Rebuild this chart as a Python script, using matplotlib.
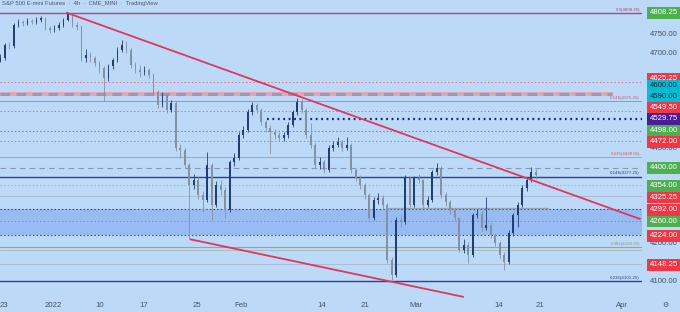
import matplotlib.pyplot as plt

plt.rcParams['font.family'] = ['Liberation Sans', 'DejaVu Sans']
plt.rcParams['lines.scale_dashes'] = False

# half-day candles (S&P 500 E-mini, late Dec 2021 -> 18 Mar 2022)
closes = [4689, 4724, 4720, 4776, 4784, 4782, 4787, 4784, 4790, 4795,
          4768, 4763, 4768, 4776, 4790, 4805, 4776, 4771, 4689, 4697,
          4689, 4676, 4663, 4637, 4668, 4684, 4711, 4724, 4711, 4671,
          4658, 4653, 4658, 4645, 4600, 4566, 4592, 4553, 4571, 4453,
          4447, 4408, 4355, 4368, 4329, 4316, 4408, 4303, 4355, 4342,
          4289, 4416, 4426, 4487, 4500, 4547, 4566, 4553, 4521, 4505,
          4495, 4487, 4479, 4487, 4513, 4547, 4574, 4553, 4487, 4461,
          4408, 4416, 4395, 4453, 4461, 4468, 4453, 4461, 4395, 4374,
          4355, 4329, 4268, 4316, 4321, 4303, 4158, 4118, 4263, 4258,
          4374, 4303, 4374, 4368, 4303, 4316, 4389, 4400, 4329, 4310,
          4289, 4268, 4184, 4197, 4171, 4276, 4280, 4242, 4250, 4224,
          4203, 4171, 4153, 4229, 4276, 4303, 4347, 4368, 4389, 4382]
highs = [4700, 4730, 4732, 4782, 4792, 4790, 4795, 4792, 4797, 4800,
         4798, 4774, 4775, 4783, 4796, 4808, 4806, 4784, 4775, 4712,
         4704, 4696, 4682, 4668, 4674, 4690, 4718, 4737, 4734, 4716,
         4680, 4670, 4668, 4664, 4650, 4606, 4600, 4596, 4580, 4575,
         4462, 4452, 4412, 4385, 4375, 4340, 4442, 4412, 4365, 4368,
         4350, 4422, 4440, 4495, 4510, 4555, 4574, 4572, 4558, 4526,
         4512, 4502, 4494, 4495, 4520, 4553, 4584, 4582, 4558, 4518,
         4466, 4428, 4422, 4460, 4472, 4481, 4474, 4481, 4466, 4400,
         4382, 4360, 4334, 4324, 4335, 4330, 4308, 4165, 4270, 4275,
         4381, 4378, 4380, 4384, 4372, 4325, 4395, 4413, 4404, 4336,
         4315, 4295, 4272, 4212, 4204, 4282, 4292, 4286, 4324, 4256,
         4230, 4208, 4178, 4236, 4282, 4310, 4354, 4376, 4402, 4398]
lows = [4678, 4685, 4712, 4716, 4770, 4774, 4776, 4778, 4779, 4784,
        4762, 4755, 4758, 4762, 4771, 4786, 4770, 4764, 4682, 4680,
        4680, 4668, 4650, 4575, 4630, 4660, 4680, 4705, 4703, 4664,
        4650, 4640, 4646, 4636, 4592, 4558, 4560, 4545, 4548, 4445,
        4425, 4400, 4212, 4345, 4318, 4284, 4310, 4263, 4296, 4330,
        4268, 4285, 4405, 4420, 4478, 4495, 4540, 4545, 4512, 4496,
        4440, 4476, 4470, 4472, 4480, 4508, 4540, 4546, 4480, 4452,
        4400, 4398, 4388, 4390, 4446, 4455, 4445, 4448, 4388, 4366,
        4345, 4318, 4262, 4262, 4305, 4292, 4150, 4105, 4112, 4245,
        4252, 4296, 4298, 4360, 4294, 4296, 4310, 4382, 4322, 4300,
        4280, 4260, 4178, 4176, 4150, 4165, 4268, 4235, 4236, 4216,
        4195, 4162, 4131, 4148, 4222, 4245, 4298, 4340, 4362, 4372]
first_open = 4682
opens = [first_open] + closes[:-1]

tick_pos = [0.8, 11.7, 22.1, 31.9, 43.7, 53.4, 71.4, 81.0, 92.3, 110.8, 119.9, 138.1]
tick_labels = ['23', '2022', '10', '17', '25', 'Feb', '14', '21', 'Mar', '14', '21', 'Apr']

# price tags on the right scale
tag_prices = [4808.25, 4625.25, 4600.00, 4590.00, 4549.50, 4529.75, 4498.00, 4472.00,
              4400.00, 4354.00, 4325.25, 4292.00, 4260.00, 4224.00, 4148.25]
tag_kinds = ['g', 'r', 't', 't', 'r', 'p', 'g', 'r', 'g', 'g', 'r', 'r', 'g', 'r', 'r']
plain_prices = [4750, 4700, 4450, 4200, 4100]

fib_prices = [4808.25, 4575.25, 4428.05, 4377.25, 4192.25, 4101.25]
fib_labels = ['0.0(4808.25)', '0.146(4575.25)', '0.236(4428.05)', '0.146(4377.25)',
              '0.382(4192.25)', '0.236(4101.25)']

zone = [4224.00, 4292.00]
band = [4590.00, 4600.00]
upper_trend = [(14.8, 4808.25), (142.1, 4266.0)]
lower_trend = [(42.3, 4212.0), (102.8, 4061.0)]

BG = '#bcd9f8'
ZONE = '#98bcf2'
RED = '#e0375e'
NAVY = '#2f3f8f'
TXT = '#4a5360'
kind_col = {'g': ('#4caf50', 'white'), 'r': ('#f23645', 'white'),
            't': ('#00bcd4', '#1b2430'), 'p': ('#4a1d96', 'white')}

fig = plt.figure(figsize=(6.8, 3.12), dpi=100)
fig.patch.set_facecolor(BG)
ax = fig.add_axes([0, 14 / 312, 642 / 680, 298 / 312])
ax.set_facecolor(BG)
ax.set_xlim(-0.11, 142.6)
ax.set_ylim(4057.8, 4842.1)
for s in ax.spines.values():
    s.set_visible(False)

# zones
ax.axhspan(zone[0], zone[1], color=ZONE, lw=0, zorder=0.5)
ax.axhspan(band[0], band[1], xmax=613 / 642, color='#eaa3b4', lw=0, zorder=0.6)
ax.plot([-0.11, 136], [sum(band) / 2] * 2, color='#8f9fba', lw=2.2,
        dashes=(7, 4.5), zorder=0.7)

dot = (0, (1, 1.6))
# horizontal levels
ax.axhline(fib_prices[0], color='#a4506f', lw=1.0, zorder=1)
ax.axhline(4625.25, color='#e0707f', lw=0.7, ls=dot, zorder=1)
ax.axhline(fib_prices[1], color='#e07a8a', lw=0.7, zorder=1)
ax.axhline(4549.50, color='#e0707f', lw=0.7, ls=dot, zorder=1)
ax.plot([59.2, 142.6], [4529.75] * 2, color='#1a2470', lw=1.6, ls=(0, (1.3, 2.6)), zorder=1)
ax.axhline(4498.00, color='#5f88a8', lw=0.8, ls=dot, zorder=1)
ax.axhline(4472.00, color='#e0707f', lw=0.7, ls=dot, zorder=1)
ax.axhline(fib_prices[2], color='#d8909e', lw=0.7, zorder=1)
ax.axhline(4400.00, color='#8797b0', lw=0.8, ls=(0, (4, 3)), zorder=1)
ax.axhline(fib_prices[3], color=NAVY, lw=1.0, zorder=1)
ax.axhline(4354.00, color='#9fb0c4', lw=0.7, ls=dot, zorder=1)
ax.axhline(4325.25, color='#a9b8cc', lw=0.6, zorder=1)
ax.axhline(4292.00, color='#34448c', lw=0.8, ls=dot, zorder=1)
ax.plot([86.1, 121.7], [4295.0] * 2, color='#9aa4b0', lw=1.0, zorder=1)
ax.axhline(4260.00, color='#7d8eaa', lw=0.7, ls=dot, zorder=1)
ax.axhline(4224.00, color='#34448c', lw=0.8, ls=dot, zorder=1)
ax.axhline(fib_prices[4], color='#98a0a6', lw=0.8, zorder=1)
ax.axhline(4185.0, color='#a8b8a8', lw=0.6, zorder=1)
ax.axhline(4148.25, color='#a8b8cc', lw=0.6, zorder=1)
ax.axhline(fib_prices[5], color=NAVY, lw=1.0, zorder=1)

# candles
xs = list(range(len(closes)))
for x, o, h, l, c in zip(xs, opens, highs, lows, closes):
    col = '#213e74' if c >= o else '#8491a0'
    ax.vlines(x, l, h, color=col, lw=0.6, zorder=3)
    ax.bar(x, c - o if c != o else 1, bottom=o, width=0.42, color=col, lw=0, zorder=3)

# trend lines
ax.plot([p[0] for p in upper_trend], [p[1] for p in upper_trend], color=RED, lw=1.3, zorder=4)
ax.plot([p[0] for p in lower_trend], [p[1] for p in lower_trend], color=RED, lw=1.3,
        zorder=4, clip_on=False)

# fib labels
fib_cols = ['#a4506f', '#d06070', '#d06070', NAVY, '#8a9a70', NAVY]
for p, t, c in zip(fib_prices, fib_labels, fib_cols):
    ax.text(640 / 642, p + 3, t, transform=ax.get_yaxis_transform(), ha='right',
            va='bottom', fontsize=3.2, color=c, zorder=5)

# x ticks
ax.set_xticks(tick_pos, tick_labels)
ax.tick_params(axis='x', length=0, pad=3, labelsize=5.6, labelcolor=TXT)
ax.set_yticks([])

# right scale
tag_disp = [4808.25, 4635, 4616, 4587, 4558, 4529.75, 4498, 4469,
            4400, 4353, 4322, 4290, 4259, 4221, 4145]
ytr = ax.get_yaxis_transform()
for p in plain_prices:
    ax.text(1.012, p, f'{p:.2f}', transform=ytr, ha='left', va='center',
            fontsize=5.6, color=TXT, clip_on=False)
for p, yd, k in zip(tag_prices, tag_disp, tag_kinds):
    fc, tc = kind_col[k]
    ax.text(1.012, yd, f'{p:.2f}', transform=ytr, ha='left', va='center',
            fontsize=5.6, color=tc, clip_on=False,
            bbox=dict(boxstyle='square,pad=0.3', fc=fc, ec='none'))

fig.text(665 / 680, 7 / 312, '⚙', family='DejaVu Sans', fontsize=5, color=TXT,
         ha='center', va='center')
fig.text(2 / 680, 1 - 4 / 312, 'S&P 500 E-mini Futures  ·  4h  ·  CME_MINI  ·  TradingView',
         fontsize=4.2, color='#4f5866', ha='left', va='center')

fig.savefig('out.png', dpi=100, facecolor=BG)
